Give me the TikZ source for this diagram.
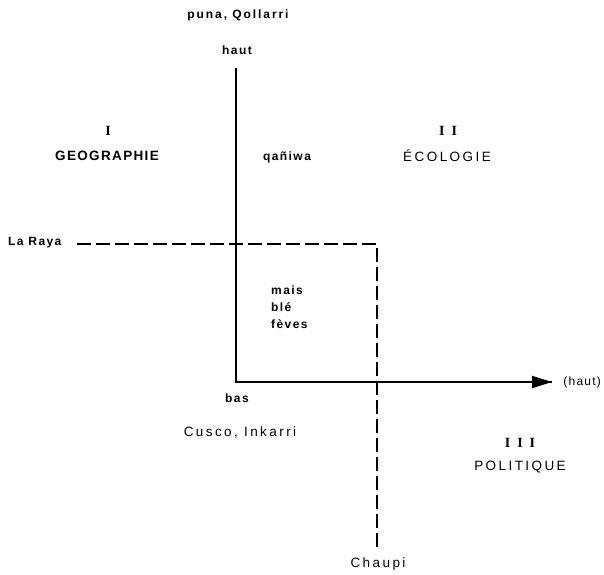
\documentclass[tikz,border=0pt]{standalone}
\usepackage{fontspec}
\setmainfont{Liberation Sans}
\newfontfamily\numfont{Liberation Serif}
\usetikzlibrary{arrows.meta}
\begin{document}
\begin{tikzpicture}[x=1pt,y=-1pt,
  axis/.style={line width=2pt},
  dashline/.style={line width=2.8pt,dash pattern=on 14pt off 5pt},
  big/.style={font=\fontsize{13.5}{15}\selectfont\addfontfeature{LetterSpace=18}, inner sep=0pt},
  small/.style={font=\fontsize{12}{14}\selectfont\bfseries\addfontfeature{LetterSpace=12}, inner sep=0pt},
  roman/.style={font=\fontsize{14}{16}\selectfont\numfont\bfseries\addfontfeature{LetterSpace=50}, inner sep=0pt}]
\useasboundingbox[fill=white] (0,0) rectangle (604,574);
% axes
\coordinate (top) at (236,68);
\coordinate (o) at (236,382);
\coordinate (xend) at (552,382);
\draw[axis] (top) -- (o) -- (xend);
\draw[axis,-{Triangle[length=20pt,width=12pt]}] (o) -- (xend);
% dashed
\coordinate (lr) at (77,244);
\coordinate (corner) at (377,244);
\coordinate (cb) at (377,549);
\draw[dashline] (lr) -- (corner) -- (cb);
% labels
\node[small,font=\fontsize{12}{14}\selectfont\bfseries\addfontfeature{LetterSpace=16}] (puna) at (238,15) {puna, Qollarri};
\node[small] (haut) at (237,50) {haut};
\node[roman] (n1) at (108,131) {I};
\node[big,font=\fontsize{13.5}{15}\selectfont\bfseries\addfontfeature{LetterSpace=10}] (geo) at (107,156) {GEOGRAPHIE};
\node[small] (qan) at (287,157) {qañiwa};
\node[roman] (n2) at (448,131) {II};
\node[big] (eco) at (447,156) {ÉCOLOGIE};
\node[small,anchor=west] (raya) at (8,243) {La Raya};
\node[small,anchor=north west,align=left,font=\fontsize{12}{17}\selectfont\bfseries\addfontfeature{LetterSpace=12}] (crops) at (271,286) {mais\\blé\\fèves};
\node[small] (bas) at (237,398) {bas};
\node[big] (cusco) at (240,432) {Cusco, Inkarri};
\node[big,anchor=east,font=\fontsize{12}{14}\selectfont\addfontfeature{LetterSpace=10}] (hautx) at (601,382) {(haut)};
\node[roman] (n3) at (520,443) {III};
\node[big] (pol) at (520,467) {POLITIQUE};
\node[big] (chaupi) at (378,564) {Chaupi};
\end{tikzpicture}
\end{document}
